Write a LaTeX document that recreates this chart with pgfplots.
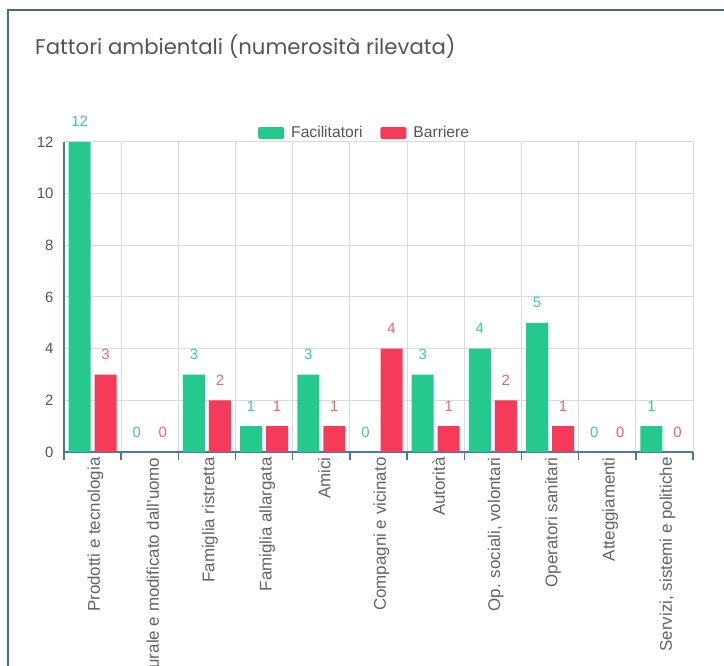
\documentclass[border=0pt]{standalone}
\usepackage{pgfplots}
\pgfplotsset{compat=1.18}
\usepackage{fontspec}
\setmainfont{Liberation Sans}
\newfontfamily\titlefont{Poppins}
\definecolor{fac}{RGB}{38,201,141}
\definecolor{barr}{RGB}{246,58,90}
\definecolor{facl}{RGB}{60,205,150}
\definecolor{barl}{RGB}{240,95,120}
\definecolor{axblue}{RGB}{70,120,175}
\definecolor{frameblue}{RGB}{60,105,150}
\definecolor{txt}{RGB}{85,85,85}
\definecolor{lbl}{RGB}{100,100,100}
\definecolor{gridc}{RGB}{218,218,218}
\begin{document}
\begin{tikzpicture}
\useasboundingbox (0,0) rectangle (724bp,666bp);
\clip (0,0) rectangle (724bp,666bp);
\fill[white] (0,0) rectangle (724bp,666bp);
\draw[frameblue, line width=2bp] (8bp,0) -- (8bp,656bp) -- (724bp,656bp);
\node[anchor=base west, text=txt, font=\titlefont\fontsize{21.3}{24}\selectfont, inner sep=0] at (35bp,611bp) {Fattori ambientali (numerosità rilevata)};
\begin{axis}[
  at={(64bp,214bp)}, anchor=south west,
  scale only axis, width=629bp, height=310bp,
  xmin=-0.5, xmax=10.5, ymin=0, ymax=12,
  clip=false,
  ybar=4bp, bar width=22bp,
  axis x line*=bottom, axis y line*=left,
  axis line style={axblue, line width=2.5bp},
  xtick={0,...,10},
  xticklabels={Prodotti e tecnologia, Ambiente naturale e modificato dall'uomo, Famiglia ristretta, Famiglia allargata, Amici, Compagni e vicinato, Autorità, {Op. sociali, volontari}, Operatori sanitari, Atteggiamenti, {Servizi, sistemi e politiche}},
  minor xtick={-0.5,0.5,...,10.5},
  xminorgrids=true, ymajorgrids=true, xmajorgrids=false,
  minor grid style={gridc, line width=1bp},
  major grid style={gridc, line width=1bp},
  major tick length=0bp, minor tick length=8bp, tick align=outside,
  minor tick style={axblue, line width=1.5bp},
  ytick={0,2,...,12},
  /pgf/number format/assume math mode=true,
  yticklabel style={font=\fontsize{15}{17}\selectfont, text=txt, xshift=-7bp},
  xticklabel style={rotate=90, anchor=east, font=\fontsize{17}{19}\selectfont, text=lbl, yshift=-3bp, xshift=-2bp},
  nodes near coords,
  nodes near coords style={font=\fontsize{15}{17}\selectfont, anchor=base, yshift=15bp, inner sep=0},
  legend style={at={(0.478,1.029)}, anchor=center, draw=none, fill=none, legend columns=2,
    font=\fontsize{15.7}{17}\selectfont, text=txt,
    /tikz/every odd column/.append style={column sep=5bp},
    /tikz/every even column/.append style={column sep=16bp}},
  legend image code/.code={\fill[#1, rounded corners=2bp] (0bp,-6bp) rectangle (26bp,6bp);},
]
\addplot[fill=fac, draw=none, every node near coord/.append style={text=facl}] coordinates {(0,12) (1,0) (2,3) (3,1) (4,3) (5,0) (6,3) (7,4) (8,5) (9,0) (10,1)};
\addplot[fill=barr, draw=none, every node near coord/.append style={text=barl}] coordinates {(0,3) (1,0) (2,2) (3,1) (4,1) (5,4) (6,1) (7,2) (8,1) (9,0) (10,0)};
\legend{Facilitatori, Barriere}
\end{axis}
\end{tikzpicture}
\end{document}
